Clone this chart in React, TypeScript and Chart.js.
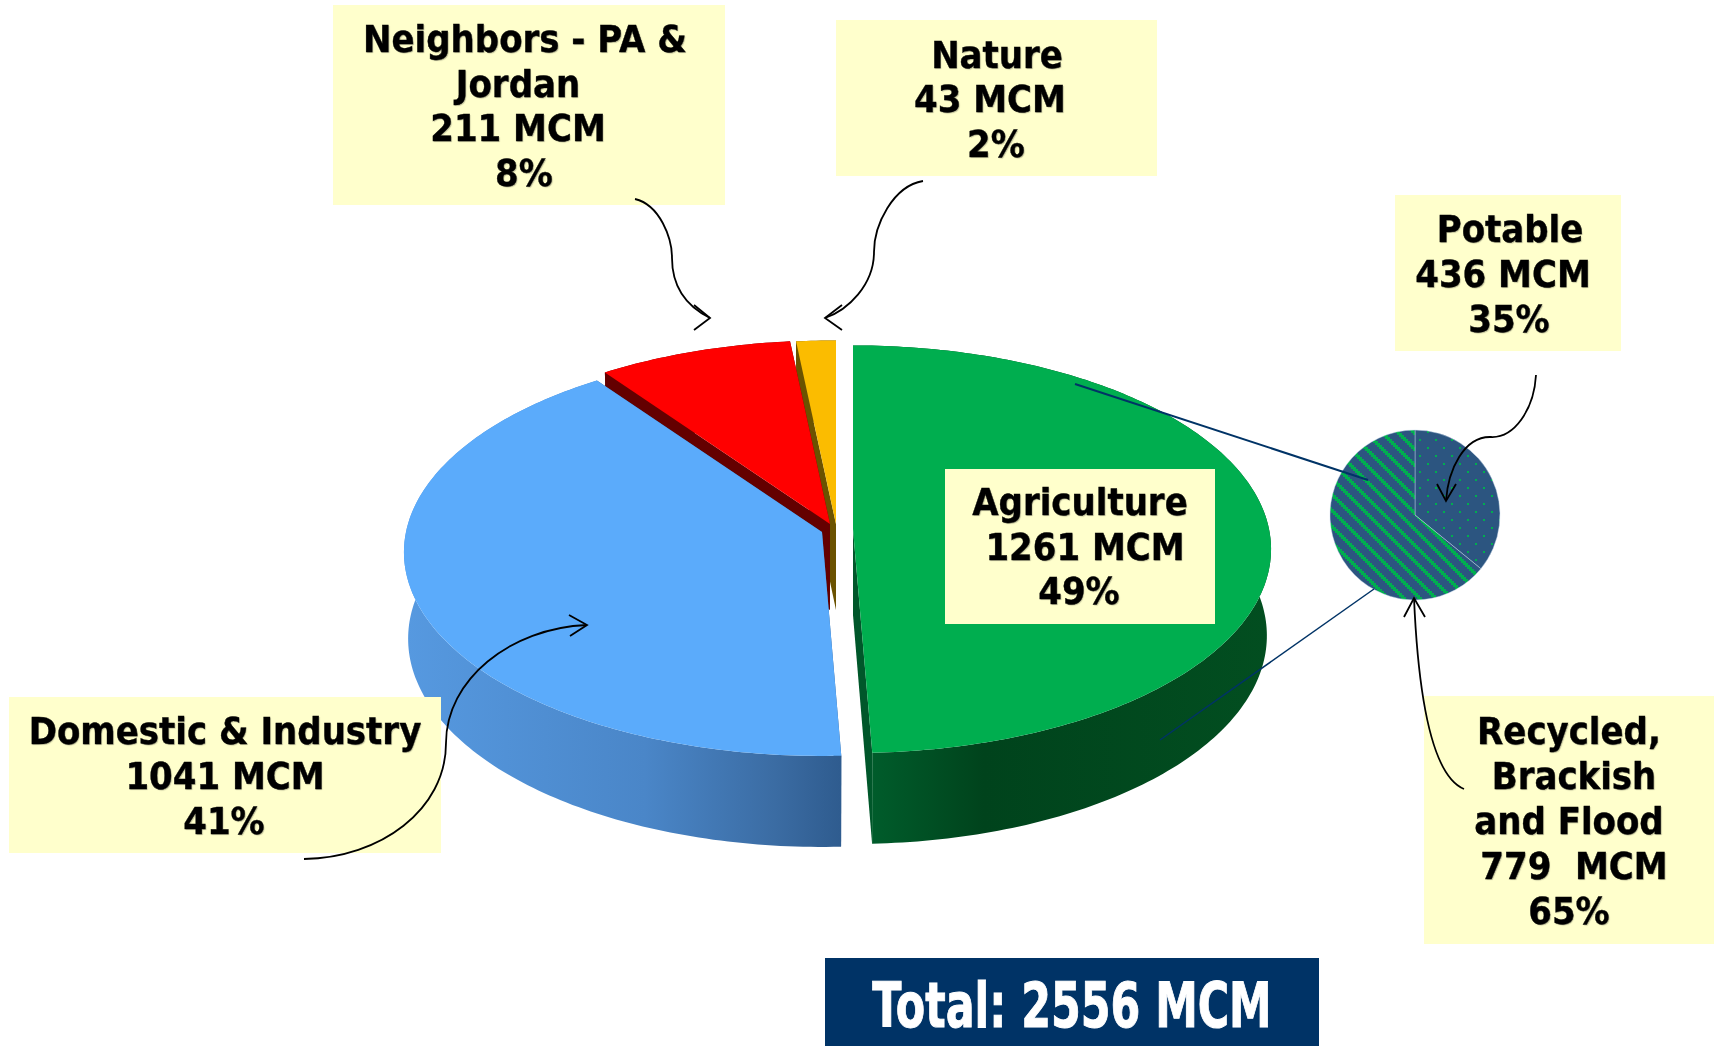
import React, { useEffect, useRef } from "react";
import { Chart, registerables } from "chart.js";

Chart.register(...registerables);

const useCategories = ["Agriculture", "Domestic & Industry", "Neighbors - PA & Jordan", "Nature"];
const useValues = [1261, 1041, 211, 43];
const useColors = ["#00AE4F", "#5BABFB", "#FF0000", "#FBBC00"];
const agriCategories = ["Potable", "Recycled, Brackish and Flood"];
const agriValues = [436, 779];

// Placement of each exploded slice relative to the chart centre
const sliceShift = [
  { x: -4, y: 6 },
  { x: -35, y: 9 },
  { x: -27, y: 1 },
  { x: -21, y: 1 },
];
const radialWall = ["#00572A", "#2F5C8F", "#640000", "#6B5200"];
const TILT = 0.485;
const PERSPECTIVE = 0.099;
const PIE_RADIUS = 416;

type Label = { box: number[]; lines: { t: string; cx: number; cy: number }[] };
const labels: Label[] = [
  {
    box: [333, 5, 392, 200],
    lines: [
      { t: "Neighbors - PA &", cx: 525, cy: 39 },
      { t: "Jordan", cx: 518, cy: 84 },
      { t: "211 MCM", cx: 518, cy: 128 },
      { t: "8%", cx: 524, cy: 173 },
    ],
  },
  {
    box: [836, 20, 321, 156],
    lines: [
      { t: "Nature", cx: 997, cy: 55 },
      { t: "43 MCM", cx: 990, cy: 99 },
      { t: "2%", cx: 996, cy: 144 },
    ],
  },
  {
    box: [1395, 195, 226, 156],
    lines: [
      { t: "Potable", cx: 1510, cy: 229 },
      { t: "436 MCM", cx: 1503, cy: 274 },
      { t: "35%", cx: 1509, cy: 319 },
    ],
  },
  {
    box: [945, 469, 270, 155],
    lines: [
      { t: "Agriculture", cx: 1080, cy: 502 },
      { t: "1261 MCM", cx: 1085, cy: 547 },
      { t: "49%", cx: 1079, cy: 591 },
    ],
  },
  {
    box: [9, 697, 432, 156],
    lines: [
      { t: "Domestic & Industry", cx: 225, cy: 731 },
      { t: "1041 MCM", cx: 225, cy: 776 },
      { t: "41%", cx: 224, cy: 821 },
    ],
  },
  {
    box: [1424, 696, 290, 248],
    lines: [
      { t: "Recycled,", cx: 1569, cy: 731 },
      { t: "Brackish", cx: 1574, cy: 776 },
      { t: "and Flood", cx: 1569, cy: 821 },
      { t: "779  MCM", cx: 1574, cy: 866 },
      { t: "65%", cx: 1569, cy: 911 },
    ],
  },
];

const callouts = [
  "M635 199 C660 205 672 238 672 258 C672 285 684 305 710 318",
  "M923 181 C893 186 874 225 874 252 C874 285 848 310 825 318",
  "M1536 375 C1534 410 1514 438 1491 437 C1464 436 1448 470 1446 501",
  "M1464 789 C1430 775 1418 690 1414 598",
  "M304 859 C380 858 446 810 446 743 C446 680 510 628 587 625",
];
const arrowHeads = [
  "M694 305 L710 318 L694 330",
  "M842 305 L825 318 L842 330",
  "M1437 484 L1446 501 L1456 484",
  "M1404 617 L1414 598 L1425 617",
  "M569 615 L587 625 L570 636",
];

const tiltedPie = {
  id: "tiltedPie",
  beforeDatasetDraw(chart: any) {
    const ctx = chart.ctx;
    const arcs = chart.getDatasetMeta(0).data;
    const ringPoints = (arc: any, i: number) => {
      const cx = arc.x + sliceShift[i].x;
      const cy = arc.y + sliceShift[i].y;
      const rx = arc.outerRadius;
      const ry = arc.outerRadius * TILT;
      const top = (a: number) => {
        const w = 1 - PERSPECTIVE * Math.sin(a);
        return { x: cx + (rx * Math.cos(a)) / w, y: cy + (ry * Math.sin(a)) / w };
      };
      const drop = (pt: { x: number; y: number }, a: number) => ({
        x: cx + (pt.x - cx) * 0.99,
        y: pt.y + 86 + 5 * Math.sin(a),
      });
      const steps = Math.max(8, Math.ceil((arc.endAngle - arc.startAngle) * 60));
      const angles = Array.from({ length: steps + 1 }, (_, k) => arc.startAngle + ((arc.endAngle - arc.startAngle) * k) / steps);
      return { cx, cy, top, drop, angles };
    };
    const fillPoly = (pts: { x: number; y: number }[], fill: any) => {
      ctx.beginPath();
      pts.forEach((p, k) => (k ? ctx.lineTo(p.x, p.y) : ctx.moveTo(p.x, p.y)));
      ctx.closePath();
      ctx.fillStyle = fill;
      ctx.fill();
    };
    const wallFill = (i: number) => {
      const c = arcs[i].x + sliceShift[i].x;
      const r = arcs[i].outerRadius;
      if (i === 0) {
        const g = ctx.createLinearGradient(c + 20, 0, c + r, 0);
        g.addColorStop(0, "#005C2B");
        g.addColorStop(0.28, "#00431C");
        g.addColorStop(1, "#024E20");
        return g;
      }
      if (i === 1) {
        const g = ctx.createLinearGradient(c - r, 0, c + 18, 0);
        g.addColorStop(0, "#5699E0");
        g.addColorStop(0.55, "#4A86C8");
        g.addColorStop(0.85, "#3B6CA3");
        g.addColorStop(1, "#2F5C8F");
        return g;
      }
      return radialWall[i];
    };
    ctx.save();
    [3, 2, 1, 0].forEach((i) => {
      const arc = arcs[i];
      const { cx, cy, top, drop, angles } = ringPoints(arc, i);
      const apex = { x: cx, y: cy };
      const apexLow = { x: cx, y: cy + 86 };
      // radial faces
      const s = angles[0];
      const e = angles[angles.length - 1];
      fillPoly([apex, top(s), drop(top(s), s), apexLow], radialWall[i]);
      fillPoly([apex, top(e), drop(top(e), e), apexLow], radialWall[i]);
      // rim face
      const rimTop = angles.map((a) => top(a));
      const rimLow = angles.map((a) => drop(top(a), a)).reverse();
      fillPoly([...rimTop, ...rimLow], wallFill(i));
      // top face
      fillPoly([apex, ...rimTop], useColors[i]);
    });
    ctx.restore();
    return false;
  },
};

function tile(size: number, paint: (c: CanvasRenderingContext2D) => void) {
  const cv = document.createElement("canvas");
  cv.width = size;
  cv.height = size;
  const c = cv.getContext("2d") as CanvasRenderingContext2D;
  c.fillStyle = "#2C5580";
  c.fillRect(0, 0, size, size);
  c.fillStyle = "#00AE4F";
  paint(c);
  return c.createPattern(cv, "repeat");
}

export default function App() {
  const mainRef = useRef<HTMLCanvasElement>(null);
  const smallRef = useRef<HTMLCanvasElement>(null);

  useEffect(() => {
    document.body.style.margin = "0";
    const main = new Chart(mainRef.current as HTMLCanvasElement, {
      type: "pie",
      data: {
        labels: useCategories,
        datasets: [{ data: useValues, backgroundColor: useColors, borderWidth: 0, radius: PIE_RADIUS }],
      },
      options: {
        animation: false,
        responsive: false,
        layout: { padding: 0 },
        plugins: { legend: { display: false }, tooltip: { enabled: false } },
      },
      plugins: [tiltedPie],
    } as any);

    const dots = tile(16, (c) => {
      c.fillRect(0, 0, 2, 2);
      c.fillRect(8, 8, 2, 2);
    });
    const stripes = tile(16, (c) => {
      for (let y = 0; y < 16; y += 2) {
        for (let o = -16; o <= 16; o += 16) c.fillRect(y + o, y, 5, 2);
      }
    });
    const small = new Chart(smallRef.current as HTMLCanvasElement, {
      type: "pie",
      data: {
        labels: agriCategories,
        datasets: [
          {
            data: agriValues,
            backgroundColor: [dots, stripes],
            borderColor: "rgba(200,215,235,0.55)",
            borderWidth: 0.8,
            radius: 85,
          },
        ],
      },
      options: {
        animation: false,
        responsive: false,
        layout: { padding: 0 },
        plugins: { legend: { display: false }, tooltip: { enabled: false } },
      },
    } as any);
    return () => {
      main.destroy();
      small.destroy();
    };
  }, []);

  const abs: React.CSSProperties = { position: "absolute" };
  return (
    <div style={{ position: "absolute", left: 0, top: 0, width: 1714, height: 1046, overflow: "hidden", background: "#fff" }}>
      <canvas ref={mainRef} width={1714} height={1046} style={{ ...abs, left: 0, top: 0 }} />
      <canvas ref={smallRef} width={200} height={200} style={{ ...abs, left: 1315, top: 415 }} />
      {labels.map((l, i) => (
        <div key={i} style={{ ...abs, left: l.box[0], top: l.box[1], width: l.box[2], height: l.box[3], background: "#FFFFCC" }} />
      ))}
      {labels.flatMap((l, i) =>
        l.lines.map((ln, j) => (
          <div
            key={`${i}-${j}`}
            style={{
              ...abs,
              left: ln.cx - 300,
              top: ln.cy - 25,
              width: 600,
              height: 50,
              lineHeight: "50px",
              textAlign: "center",
              whiteSpace: "pre",
              fontFamily: "'DejaVu Sans', sans-serif",
              fontWeight: 700,
              fontSize: 38,
              color: "#000",
              transform: "scaleX(0.895)",
              WebkitTextStroke: "0.4px #000",
              textShadow: "1px 1px 1px rgba(0,0,0,0.25)",
            }}
          >
            {ln.t}
          </div>
        )),
      )}
      <div style={{ ...abs, left: 825, top: 958, width: 494, height: 88, background: "#003366" }} />
      <div
        style={{
          ...abs,
          left: 672,
          top: 971,
          width: 800,
          height: 70,
          lineHeight: "70px",
          textAlign: "center",
          whiteSpace: "pre",
          fontFamily: "'DejaVu Sans', sans-serif",
          fontWeight: 700,
          fontSize: 62,
          color: "#fff",
          transform: "scaleX(0.69)",
          WebkitTextStroke: "1px #fff",
        }}
      >
        Total: 2556 MCM
      </div>
      <svg width={1714} height={1046} style={{ ...abs, left: 0, top: 0, pointerEvents: "none" }}>
        <line x1={1075} y1={384} x2={1368} y2={480} stroke="#003366" strokeWidth={2} />
        <line x1={1160} y1={740} x2={1374} y2={589} stroke="#003366" strokeWidth={1.5} />
        {callouts.map((d, i) => (
          <path key={i} d={d} fill="none" stroke="#000" strokeWidth={1.8} />
        ))}
        {arrowHeads.map((d, i) => (
          <path key={i} d={d} fill="none" stroke="#000" strokeWidth={1.8} />
        ))}
      </svg>
    </div>
  );
}
